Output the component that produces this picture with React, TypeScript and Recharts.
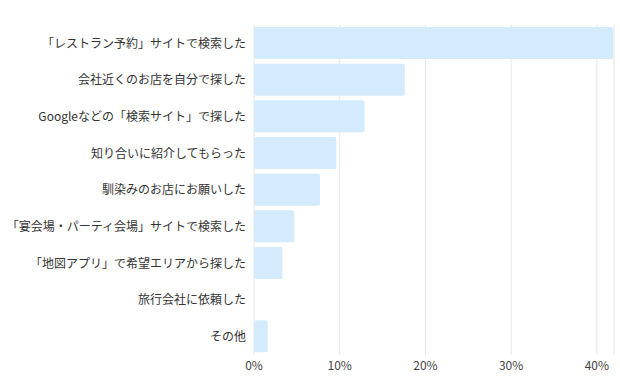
import { BarChart, Bar, XAxis, YAxis, CartesianGrid } from 'recharts'

const categories = [
  '「レストラン予約」サイトで検索した',
  '会社近くのお店を自分で探した',
  'Googleなどの「検索サイト」で探した',
  '知り合いに紹介してもらった',
  '馴染みのお店にお願いした',
  '「宴会場・パーティ会場」サイトで検索した',
  '「地図アプリ」で希望エリアから探した',
  '旅行会社に依頼した',
  'その他',
]

const shares = [41.9, 17.6, 12.9, 9.6, 7.7, 4.7, 3.3, 0, 1.6]

const xTicks = [0, 10, 20, 30, 40]

const data = categories.map((name, i) => ({ name, share: shares[i] }))

const font = '"Noto Sans CJK JP", "Noto Sans", sans-serif'

export default function App() {
  return (
    <div style={{ position: 'absolute', left: 0, top: 0, width: 620, height: 387, background: '#fff', fontFamily: font }}>
      <BarChart
        width={620}
        height={387}
        data={data}
        layout="vertical"
        margin={{ top: 25, right: 6, bottom: 0, left: 0 }}
        barCategoryGap={4}
      >
        <CartesianGrid horizontal={false} stroke="#e6e6e6" />
        <XAxis
          type="number"
          domain={[0, 42]}
          ticks={xTicks}
          tickFormatter={(v) => `${v}%`}
          axisLine={false}
          tickLine={false}
          height={32}
          tickSize={4}
          tick={{ fill: '#444', fontSize: 12, fontFamily: font }}
        />
        <YAxis
          type="category"
          dataKey="name"
          width={254}
          axisLine={false}
          tickLine={false}
          interval={0}
          tick={{ fill: '#333', fontSize: 12, fontFamily: font }}
        />
        <Bar dataKey="share" fill="#d3ebfc" barSize={32} radius={2} isAnimationActive={false} />
      </BarChart>
    </div>
  )
}
